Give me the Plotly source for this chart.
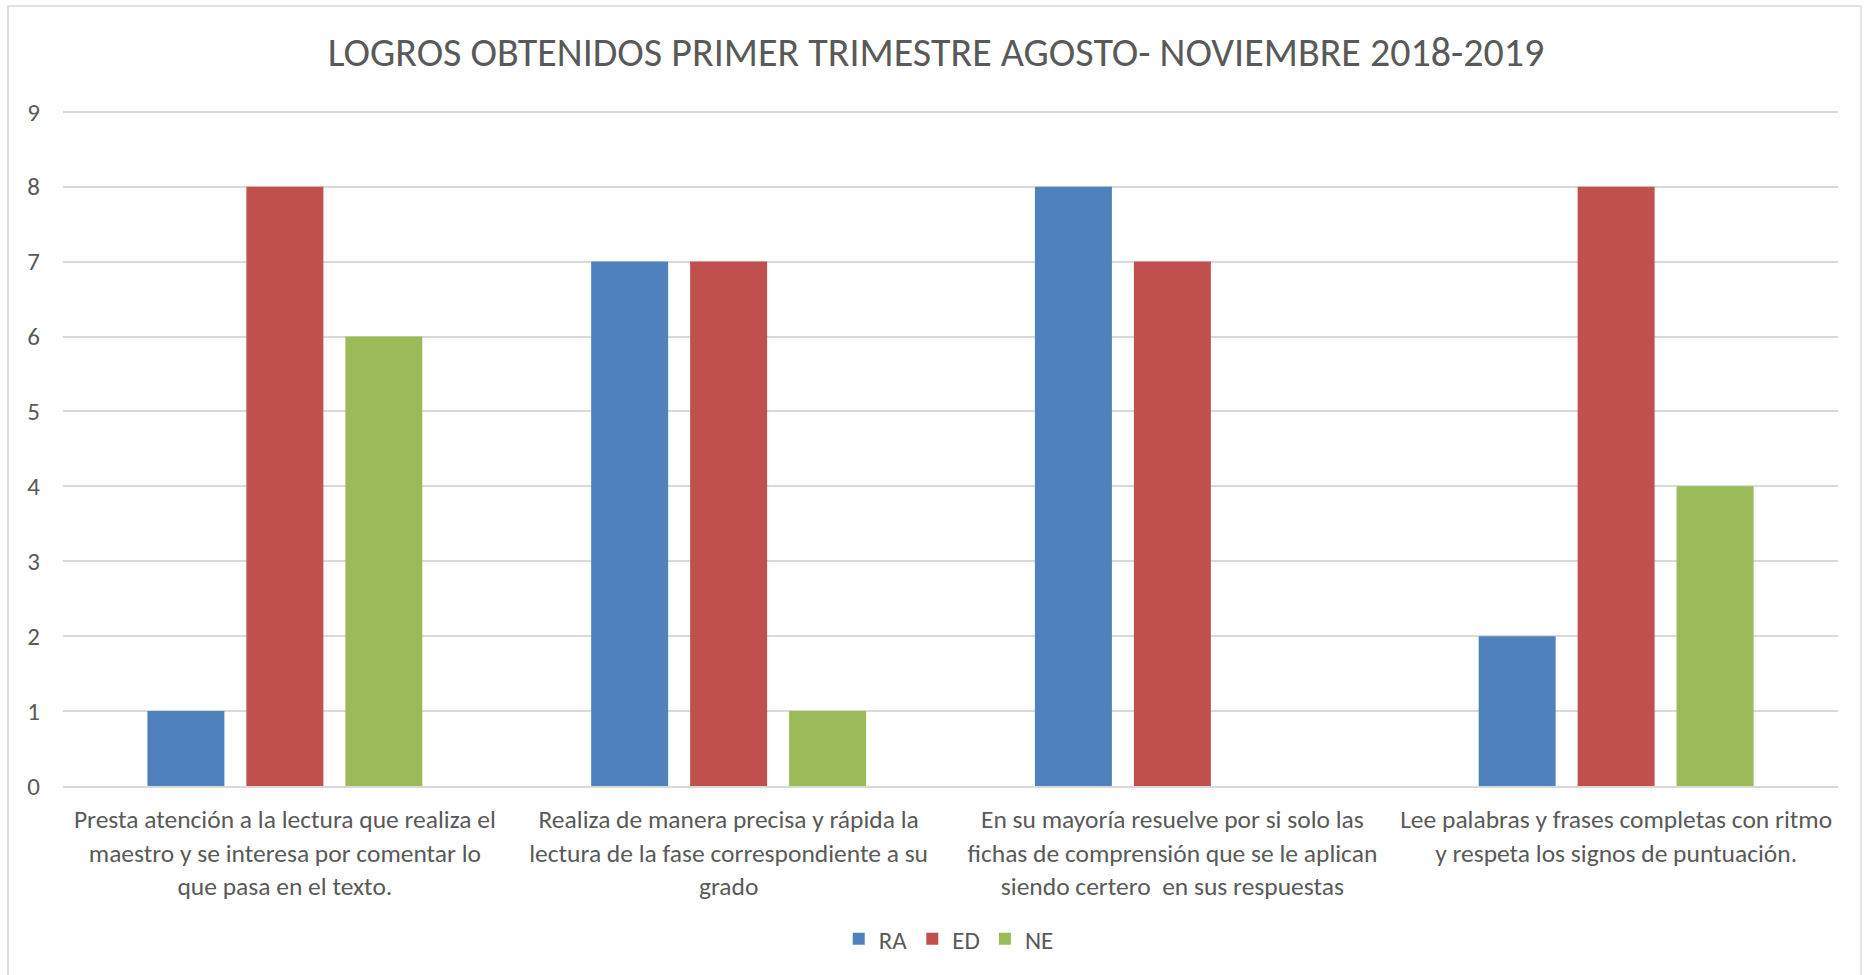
import plotly.graph_objects as go

categories = [
    "Presta atención a la lectura que realiza el<br>maestro y se interesa por comentar lo<br>que pasa en el texto.",
    "Realiza de manera precisa y rápida la<br>lectura de la fase correspondiente a su<br>grado",
    "En su mayoría resuelve por si solo las<br>fichas de comprensión que se le aplican<br>siendo certero  en sus respuestas",
    "Lee palabras y frases completas con ritmo<br>y respeta los signos de puntuación.",
]
series_names = ["RA", "ED", "NE"]
ra_values = [1, 7, 8, 2]
ed_values = [8, 7, 7, 8]
ne_values = [6, 1, 0, 4]
colors = ["#4F81BD", "#C0504D", "#9BBB59"]
y_ticks = list(range(0, 10))
title_text = "LOGROS OBTENIDOS PRIMER TRIMESTRE AGOSTO- NOVIEMBRE 2018-2019"

FONT = "Carlito, Calibri, Roboto, sans-serif"

fig = go.Figure()
for name, vals, col in zip(series_names, [ra_values, ed_values, ne_values], colors):
    fig.add_trace(go.Bar(name=name, x=categories, y=vals, marker=dict(color=col, line=dict(width=0))))

W, H = 1872, 975
L, R, T, B = 63, 34, 108, 189
pw, ph = W - L - R, H - T - B

fig.update_layout(
    width=W, height=H,
    margin=dict(l=L, r=R, t=T, b=B),
    paper_bgcolor="white", plot_bgcolor="white",
    barmode="group", bargap=0.331, bargroupgap=0.222,
    title=dict(text=title_text, x=0.5, xanchor="center", y=1 - 52 / H, yanchor="middle",
               font=dict(family=FONT, size=40, color="#595959")),
    font=dict(family=FONT, color="#595959"),
    legend=dict(orientation="h", x=0.499, xanchor="center", y=1 - 939 / H, yanchor="middle",
                yref="container", font=dict(size=25, color="#595959"), itemwidth=30,
                traceorder="normal"),
    xaxis=dict(showgrid=False, showline=True, linecolor="#d9d9d9", linewidth=1.5,
               ticks="", tickfont=dict(size=25.5, color="#595959"), tickangle=0,
               automargin=False, ticklabelstandoff=10),
    yaxis=dict(range=[0, 9.05], tickvals=y_ticks, showgrid=True, gridcolor="#d9d9d9", gridwidth=1.5,
               zeroline=False, showline=False, ticks="", ticklabelstandoff=22,
               automargin=False, tickfont=dict(size=25, color="#595959")),
    showlegend=True,
)

# chart border
fig.add_shape(type="rect", xref="paper", yref="paper",
              x0=(8 - L) / pw, x1=(1861 - L) / pw,
              y0=(H - B - 990) / ph, y1=(H - B - 6) / ph,
              line=dict(color="#d9d9d9", width=1.5), fillcolor="rgba(0,0,0,0)", layer="below")

fig.write_html("out.html", config={"displayModeBar": False},
               post_script="document.body.style.margin='0';")
